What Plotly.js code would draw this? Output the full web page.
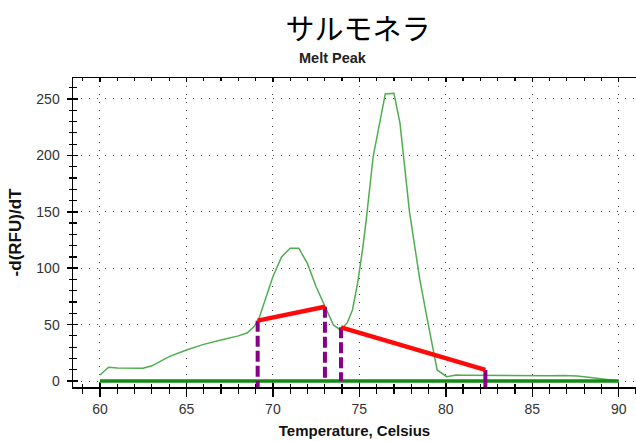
<!DOCTYPE html>
<html>
<head>
<meta charset="utf-8">
<script src="https://cdn.plot.ly/plotly-3.0.1.min.js"></script>
<style>html,body{margin:0;padding:0;background:#fff;}#chart{width:636px;height:441px;}</style>
</head>
<body>
<div id="chart"></div>
<script>
// Melt curve (-d(RFU)/dT vs temperature)
const temps = [60, 60.5, 61, 62, 62.5, 63, 64, 65, 66, 67, 68, 68.5, 68.9, 69.2, 70, 70.5, 71, 71.5, 72, 72.5, 73, 73.5, 73.9, 74.3, 74.6, 74.9, 75.2, 75.4, 75.8, 76.2, 76.5, 77.0, 77.35, 77.9, 78.5, 78.9, 79.5, 80.05, 80.6, 81, 82, 83, 84, 85, 86, 86.8, 87.6, 88.5, 89.3, 90];
const dRFU  = [5.3, 12.2, 11.5, 11.3, 11.3, 13.5, 21.6, 27.5, 32.5, 36.4, 40, 42.5, 48, 55.6, 92.5, 110, 117.7, 117.7, 104, 83.5, 66, 49.7, 45.3, 51.5, 63, 86.7, 118, 143, 199, 231, 254.5, 255, 228.6, 150, 89.6, 57, 9.8, 3.8, 5.3, 5.2, 5, 4.8, 4.5, 4.5, 4.6, 5.0, 4.4, 2.8, 1.2, 0];

// Baseline (threshold) line
const baseX = [60, 90];
const baseY = [0, 0];

// Red peak baselines
const red1X = [69.12, 73.01];
const red1Y = [53.5, 65.9];
const red2X = [73.94, 82.29];
const red2Y = [47.6, 9.8];

// Purple markers (vertical)
const purpleDashX = [69.12, 73.01, 73.94];
const purpleDashTop = [53.5, 65.9, 47.6];
const purpleDashBottom = [-12, 0, 0];
const purpleSolidX = [82.29];
const purpleSolidTop = [9.8];
const purpleSolidBottom = [-8];

const xTickVals = [60, 65, 70, 75, 80, 85, 90];
const yTickVals = [0, 50, 100, 150, 200, 250];

const xRange = [58.44, 91.0];
const yRange = [-5.3, 268.6];

const traces = [];
traces.push({x: temps, y: dRFU, mode: 'lines', line: {color: '#4fae4f', width: 1.5}, hoverinfo: 'skip'});
traces.push({x: baseX, y: baseY, mode: 'lines', line: {color: '#138a13', width: 3.5}, hoverinfo: 'skip'});
purpleDashX.forEach((xv, i) => {
  traces.push({x: [xv, xv], y: [purpleDashTop[i], purpleDashBottom[i]], mode: 'lines',
    line: {color: '#880088', width: 4, dash: '11px,4px'}, hoverinfo: 'skip'});
});
purpleSolidX.forEach((xv, i) => {
  traces.push({x: [xv, xv], y: [purpleSolidTop[i], purpleSolidBottom[i]], mode: 'lines',
    line: {color: '#880088', width: 4}, hoverinfo: 'skip'});
});
traces.push({x: red1X, y: red1Y, mode: 'lines', line: {color: '#ff0a0a', width: 4.5}, hoverinfo: 'skip'});
traces.push({x: red2X, y: red2Y, mode: 'lines', line: {color: '#ff0a0a', width: 4.5}, hoverinfo: 'skip'});
// empty trace to host the overlay (inside-tick) axes
traces.push({x: [], y: [], xaxis: 'x2', yaxis: 'y2', mode: 'lines', hoverinfo: 'skip'});

const tickFont = {family: 'Arial, "Liberation Sans", sans-serif', size: 14, color: '#333'};

const layout = {
  width: 636, height: 441,
  margin: {l: 73, r: 0, t: 78, b: 54},
  paper_bgcolor: '#fff', plot_bgcolor: '#fff',
  showlegend: false,
  title: {text: 'サルモネラ', font: {family: '"Noto Sans CJK JP", sans-serif', size: 29, color: '#000'},
          xref: 'container', x: 0.563, xanchor: 'center', yref: 'container', y: 0.932, yanchor: 'middle'},
  annotations: [{text: '<b>Melt Peak</b>', xref: 'paper', yref: 'paper', x: 0.4618, y: 1.0647,
    xanchor: 'center', yanchor: 'middle', showarrow: false,
    font: {family: 'Arial, "Liberation Sans", sans-serif', size: 14.5, color: '#222'}}],
  xaxis: {
    range: xRange, tickvals: xTickVals, ticktext: xTickVals.map(String),
    showline: true, linecolor: '#000', linewidth: 1.5, mirror: true,
    ticks: 'outside', ticklen: 8, tickwidth: 1.5, tickcolor: '#000',
    minor: {ticks: 'outside', dtick: 1, tick0: 60, ticklen: 5, tickwidth: 1.2, tickcolor: '#000', showgrid: false},
    showgrid: true, gridcolor: '#444', gridwidth: 1, griddash: '1.3px,6.7px',
    zeroline: false, tickfont: tickFont, ticklabelstandoff: 1,
    title: {text: 'Temperature, Celsius', font: {family: 'Arial, "Liberation Sans", sans-serif', size: 15, color: '#111', weight: 'bold'}, standoff: 9}
  },
  yaxis: {
    range: yRange, tickvals: yTickVals, ticktext: yTickVals.map(String),
    showline: true, linecolor: '#000', linewidth: 1.5, mirror: false,
    ticks: 'outside', ticklen: 5, tickwidth: 1.5, tickcolor: '#000',
    minor: {ticks: 'outside', dtick: 10, tick0: 0, ticklen: 3, tickwidth: 1.2, tickcolor: '#000', showgrid: false},
    showgrid: true, gridcolor: '#444', gridwidth: 1, griddash: '1.3px,6.7px',
    zeroline: false, tickfont: tickFont, ticklabelstandoff: 4,
    title: {text: '-d(RFU)/dT', font: {family: 'Arial, "Liberation Sans", sans-serif', size: 17, color: '#111', weight: 'bold'}, standoff: 10}
  },
  xaxis2: {
    range: xRange, overlaying: 'x', anchor: 'y', side: 'bottom',
    tickvals: xTickVals, showticklabels: false, showline: false, showgrid: false, zeroline: false,
    ticks: 'inside', ticklen: 4, tickwidth: 1.5, tickcolor: '#000', mirror: 'ticks',
    minor: {ticks: 'inside', dtick: 1, tick0: 60, ticklen: 3, tickwidth: 1.2, tickcolor: '#000', showgrid: false}
  },
  yaxis2: {
    range: yRange, overlaying: 'y', anchor: 'x', side: 'left',
    tickvals: yTickVals, showticklabels: false, showline: false, showgrid: false, zeroline: false,
    ticks: 'inside', ticklen: 5, tickwidth: 1.5, tickcolor: '#000', mirror: false,
    minor: {ticks: 'inside', dtick: 10, tick0: 0, ticklen: 4, tickwidth: 1.2, tickcolor: '#000', showgrid: false}
  }
};

Plotly.newPlot('chart', traces, layout, {staticPlot: true, displayModeBar: false});
</script>
</body>
</html>
